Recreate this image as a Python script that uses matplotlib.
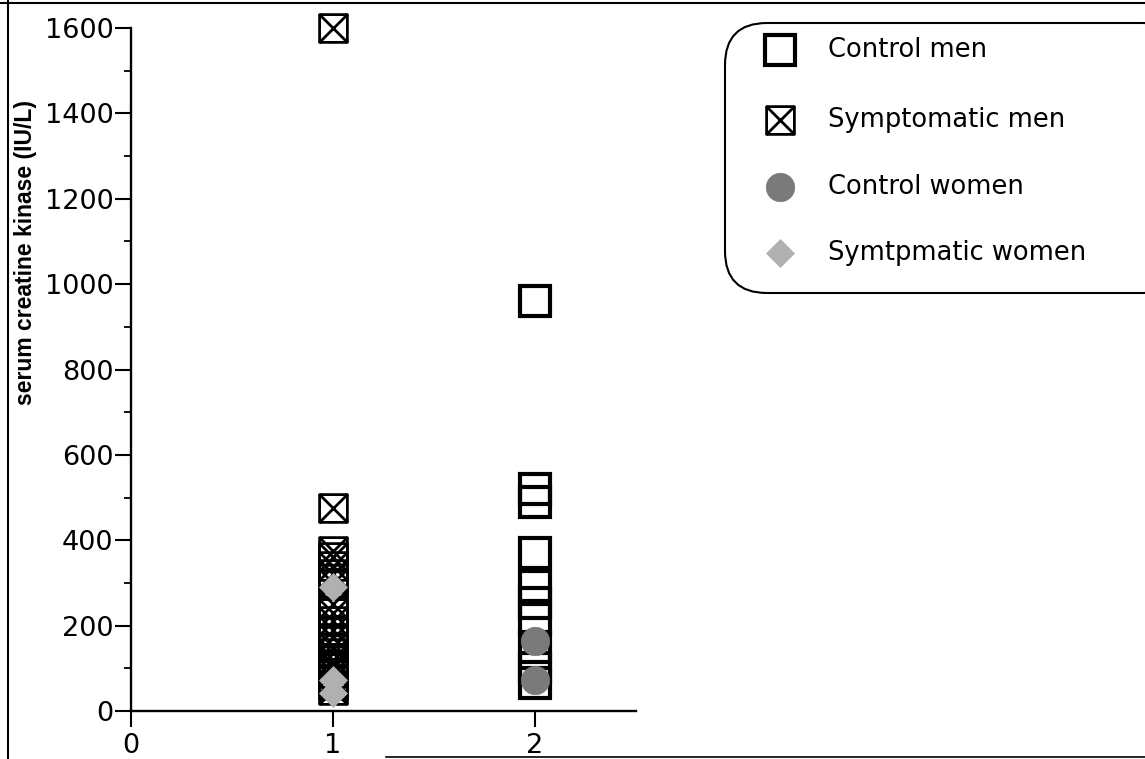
import matplotlib
matplotlib.use("Agg")
import matplotlib.pyplot as plt
from matplotlib.path import Path
from matplotlib.patches import FancyBboxPatch
import numpy as np

# values (IU/L)
control_men = [960, 520, 490, 370, 292, 254, 215, 150, 100, 66]
symptomatic_men = [1600, 475, 375, 360, 340, 320, 300, 250, 230, 210, 190, 170,
                   150, 135, 120, 110, 100, 90, 75, 60, 50]
control_women = [163, 73]
symptomatic_women = [290, 72, 42]

group_x = {'symptomatic': 1, 'control': 2}
legend_labels = ['Control men', 'Symptomatic men', 'Control women', 'Symtpmatic women']

# boxed-X marker: square outline plus both diagonals
box_x = Path([(-1, -1), (1, -1), (1, 1), (-1, 1), (-1, -1),
              (-1, -1), (1, 1), (-1, 1), (1, -1)],
             [Path.MOVETO, Path.LINETO, Path.LINETO, Path.LINETO, Path.CLOSEPOLY,
              Path.MOVETO, Path.LINETO, Path.MOVETO, Path.LINETO])

styles = {
    'Control men': dict(marker='s', markersize=21.5, markerfacecolor='none',
                        markeredgecolor='black', markeredgewidth=3.0),
    'Symptomatic men': dict(marker=box_x, markersize=20, markerfacecolor='none',
                            markeredgecolor='black', markeredgewidth=2.0),
    'Control women': dict(marker='o', markersize=20.5, markerfacecolor='#7a7a7a',
                          markeredgecolor='#7a7a7a', markeredgewidth=0.5),
    'Symtpmatic women': dict(marker='D', markersize=14.5, markerfacecolor='#b0b0b0',
                             markeredgecolor='#b0b0b0', markeredgewidth=0.5),
}

W, H = 1145, 759
fig = plt.figure(figsize=(W / 100, H / 100), dpi=100)
ax = fig.add_axes([131 / W, 1 - 711 / H, 505 / W, 683 / H])

ax.plot([group_x['symptomatic']] * len(symptomatic_men), symptomatic_men,
        linestyle='none', clip_on=False, **styles['Symptomatic men'])
ax.plot([group_x['symptomatic']] * len(symptomatic_women), symptomatic_women,
        linestyle='none', clip_on=False, **styles['Symtpmatic women'])
ax.plot([group_x['control']] * len(control_men), control_men,
        linestyle='none', clip_on=False, **styles['Control men'])
ax.plot([group_x['control']] * len(control_women), control_women,
        linestyle='none', clip_on=False, **styles['Control women'])

ax.set_xlim(0, 2.5)
ax.set_ylim(0, 1600)
ax.set_xticks([0, 1, 2])
ax.set_yticks(np.arange(0, 1601, 200))
ax.set_yticks(np.arange(100, 1600, 200), minor=True)
for s in ['top', 'right']:
    ax.spines[s].set_visible(False)
for s in ['left', 'bottom']:
    ax.spines[s].set_linewidth(1.7)
ax.tick_params(axis='both', which='major', direction='out', length=11.5,
               width=1.5, labelsize=19.5, pad=1)
ax.tick_params(axis='x', which='major', pad=4)
ax.tick_params(axis='y', which='minor', direction='out', length=5, width=1.3)
ax.patch.set_alpha(0)

fig.text(26 / W, 1 - 252 / H, 'serum creatine kinase (IU/L)', rotation=90,
         ha='center', va='center', fontsize=16.5, fontweight='bold',
         family='Liberation Sans')

# overlay in pixel coordinates for the legend box and the scan frame
lax = fig.add_axes([0, 0, 1, 1])
lax.set_xlim(0, W)
lax.set_ylim(H, 0)
lax.set_axis_off()
lax.patch.set_alpha(0)

box = FancyBboxPatch((725, 23), 460, 270, boxstyle='round,pad=0,rounding_size=42',
                     facecolor='white', edgecolor='black', linewidth=1.5)
lax.add_patch(box)
row_y = [50, 120, 187, 253]
for label, y in zip(legend_labels, row_y):
    lax.plot([780], [y], linestyle='none', **styles[label])
    lax.text(828, y, label, fontsize=18.5, va='center', ha='left')

# frame lines of the scanned page
lax.plot([0, W], [3, 3], color='black', linewidth=1.5)
lax.plot([8, 8], [0, H], color='black', linewidth=1.5)
lax.plot([386, W], [757, 757], color='black', linewidth=1.2)

fig.savefig('out.png', dpi=100)
